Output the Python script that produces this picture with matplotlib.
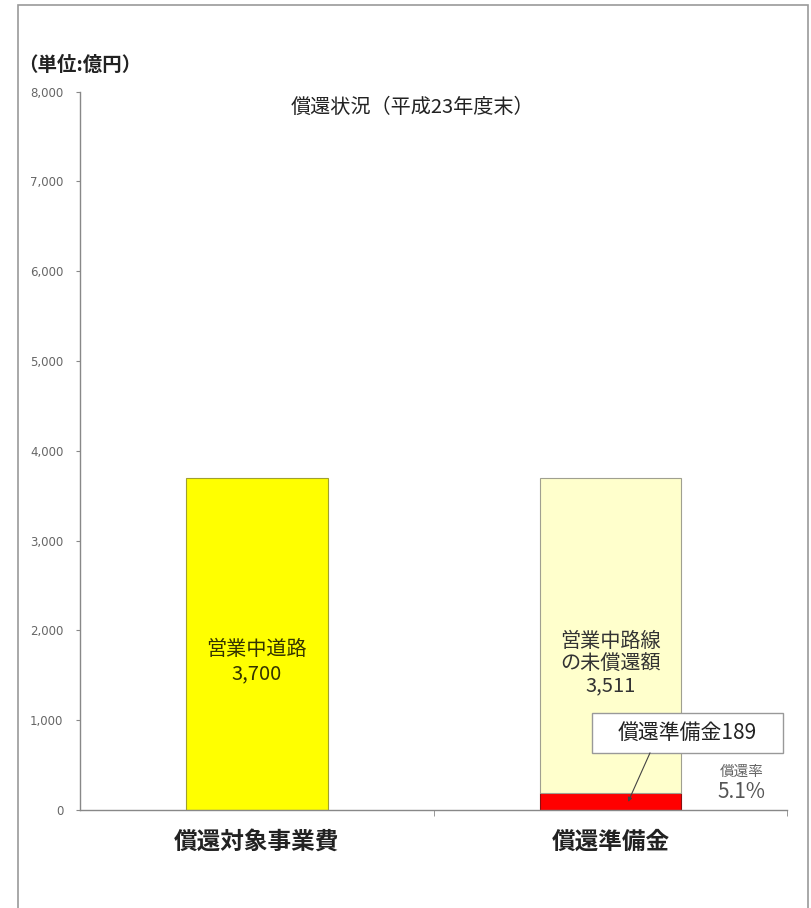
import matplotlib.pyplot as plt
from matplotlib.patches import Rectangle

plt.rcParams['font.family'] = ['Noto Sans CJK JP', 'DejaVu Sans']

categories = ['償還対象事業費', '償還準備金']
project_cost = [3700, 0]
reserve = [0, 189]
unpaid = [0, 3511]
yticks = [0, 1000, 2000, 3000, 4000, 5000, 6000, 7000, 8000]

fig = plt.figure(figsize=(8.12, 9.08), dpi=100)
ax = fig.add_axes([0.0985, 0.108, 0.871, 0.791])

# outer frame, open at the bottom edge
frame = Rectangle((0.022, -0.05), 0.973, 1.0445, transform=fig.transFigure,
                  fill=False, edgecolor='#9a9a9a', linewidth=1.2)
fig.patches.append(frame)

x = [0, 1]
w = 0.40
ax.bar(x[0], project_cost[0], width=w, color='#ffff00', edgecolor='#a0a030', linewidth=0.8)
ax.bar(x[1], reserve[1], width=w, color='#ff0000', edgecolor='#8a1010', linewidth=0.8)
ax.bar(x[1], unpaid[1], bottom=reserve[1], width=w, color='#ffffcc',
       edgecolor='#a0a090', linewidth=0.8)

ax.set_xlim(-0.5, 1.5)
ax.set_ylim(0, 8000)

for s in ['top', 'right']:
    ax.spines[s].set_visible(False)
for s in ['left', 'bottom']:
    ax.spines[s].set_color('#888888')
    ax.spines[s].set_linewidth(1.0)

ax.set_yticks(yticks)
ax.set_yticklabels([f'{v:,}' for v in yticks], fontsize=8.5, color='#666666',
                   family=['DejaVu Sans'])
ax.tick_params(axis='y', length=3, color='#888888', pad=9)

ax.set_xticks(x)
ax.set_xticklabels(categories, fontsize=17, fontweight='bold', color='#222222')
ax.tick_params(axis='x', length=0, pad=14)
ax.set_xticks([0.5, 1.5], minor=True)
ax.tick_params(axis='x', which='minor', length=4, color='#888888')

ax.text(x[0], 1650, f'営業中道路\n{project_cost[0]:,}', ha='center', va='center',
        fontsize=14.5, color='#333300', linespacing=1.2)
ax.text(x[1], 1630, f'営業中路線\nの未償還額\n{unpaid[1]:,}', ha='center', va='center',
        fontsize=14.5, color='#333333', linespacing=1.05)

# callout box for the reserve amount
ax.add_patch(Rectangle((0.948, 636), 0.541, 447, facecolor='white',
                       edgecolor='#999999', linewidth=1.0, zorder=3))
ax.text(1.218, 860, f'償還準備金{reserve[1]}', ha='center', va='center',
        fontsize=15, color='#222222', zorder=4)
ax.annotate('', xy=(x[1] + 0.05, 90), xytext=(1.112, 636),
            arrowprops=dict(arrowstyle='-|>', color='#444444', lw=0.8,
                            mutation_scale=6, shrinkA=0, shrinkB=0))

rate = reserve[1] / project_cost[0] * 100
ax.text(1.37, 425, '償還率', ha='center', va='center', fontsize=10.5, color='#666666')
ax.text(1.37, 195, f'{rate:.1f}%', ha='center', va='center', fontsize=15, color='#555555')

fig.text(0.022, 0.928, '（単位:億円）', fontsize=14, fontweight='bold', color='#222222',
         va='center', ha='left')
fig.text(0.508, 0.882, '償還状況（平成23年度末）', fontsize=14.5, color='#222222',
         va='center', ha='center')

fig.savefig('out.png', dpi=100)
